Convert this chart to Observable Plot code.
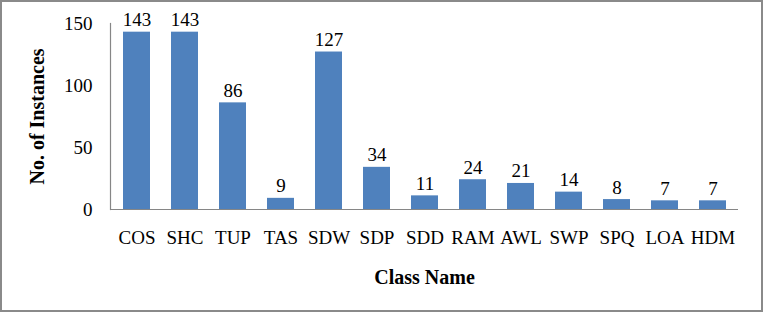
<!DOCTYPE html>
<html>
<head>
<meta charset="utf-8">
<script src="https://cdn.jsdelivr.net/npm/d3@7"></script>
<script src="https://cdn.jsdelivr.net/npm/@observablehq/plot@0.6"></script>
<style>
  body { margin: 0; background: #fff; }
  #wrap { position: relative; width: 763px; height: 312px; }
  #border { position: absolute; left: 0; top: 0; width: 763px; height: 312px; box-sizing: border-box; border: 2px solid #8a8a8a; pointer-events: none; }
  svg { display: block; }
</style>
</head>
<body>
<div id="wrap"><div id="chart"></div><div id="border"></div></div>
<script>
const categories = ["COS", "SHC", "TUP", "TAS", "SDW", "SDP", "SDD", "RAM", "AWL", "SWP", "SPQ", "LOA", "HDM"];
const counts = [143, 143, 86, 9, 127, 34, 11, 24, 21, 14, 8, 7, 7];
const yTicks = [0, 50, 100, 150];

const data = categories.map((c, i) => ({cls: c, n: counts[i]}));
const font = "'Liberation Serif', 'Times New Roman', serif";

const chart = Plot.plot({
  width: 763,
  height: 312,
  marginLeft: 110,
  marginRight: 25,
  marginTop: 23,
  marginBottom: 103,
  style: {fontFamily: font, fontSize: "19px", color: "#000", background: "transparent"},
  x: {domain: categories, paddingInner: 0.44, paddingOuter: 0.22, label: null},
  y: {domain: [0, 150], label: null},
  marks: [
    Plot.axisX({tickSize: 0, tickPadding: 21, fontSize: 19, label: null}),
    Plot.axisY({ticks: yTicks, tickSize: 0, tickPadding: 18, fontSize: 19, label: null}),
    Plot.axisX({tickSize: 0, ticks: [], label: "Class Name", labelArrow: "none", labelAnchor: "center", labelOffset: 74, fontWeight: "bold", fontSize: 20}),
    Plot.axisY({tickSize: 0, ticks: [], label: "No. of Instances", labelArrow: "none", labelAnchor: "center", labelOffset: 81, fontWeight: "bold", fontSize: 20}),
    Plot.barY(data, {x: "cls", y: "n", fill: "#4f81bd"}),
    Plot.ruleY([0], {stroke: "#868686", strokeWidth: 1.2}),
    Plot.frame({anchor: "left", stroke: "#868686", strokeWidth: 1.2}),
    Plot.text(data, {x: "cls", y: "n", text: d => String(d.n), lineAnchor: "bottom", dy: -6, fontSize: 19, fill: "#000"})
  ]
});
document.getElementById("chart").appendChild(chart);
</script>
</body>
</html>
